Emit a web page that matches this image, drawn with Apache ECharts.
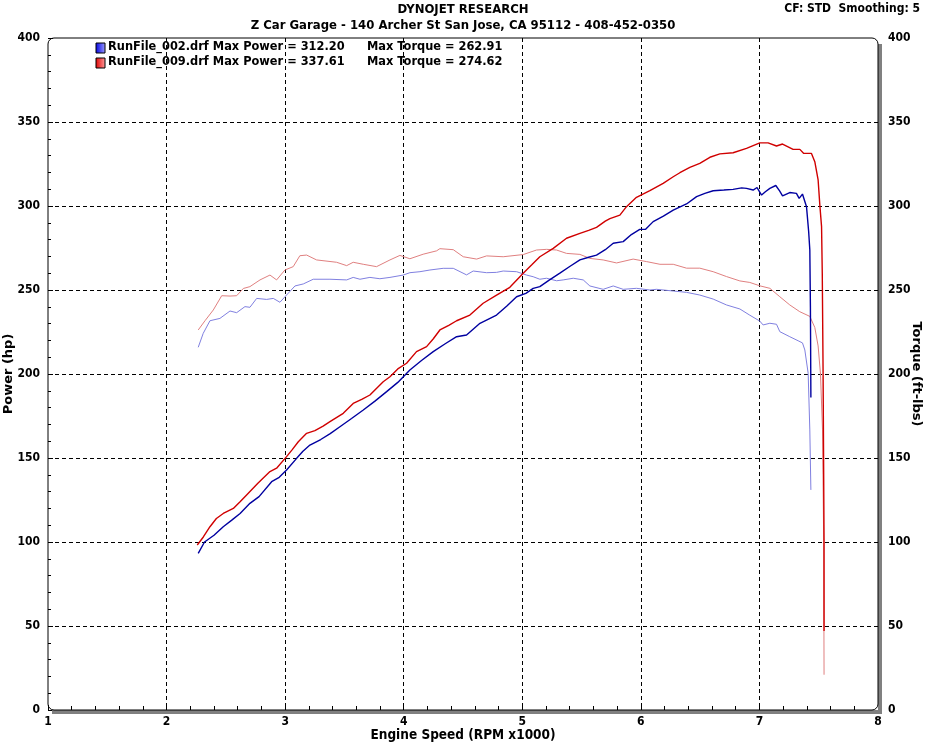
<!DOCTYPE html>
<html><head><meta charset="utf-8">
<script src="https://cdn.jsdelivr.net/npm/echarts@6/dist/echarts.min.js"></script>
<style>html,body{margin:0;padding:0;background:#fff}#c{width:925px;height:743px}</style>
</head><body><div id="c"></div>
<script>
// ---- data ----
const xTicks = [1,2,3,4,5,6,7,8];
const yTicks = [0,50,100,150,200,250,300,350,400];

const bluePowerRpm = [2.267,2.32,2.40,2.478,2.55,2.62,2.703,2.78,2.886,2.95,3.012,3.097,3.15,3.209,3.30,3.38,3.462,3.56,3.659,3.76,3.856,3.95,4.052,4.15,4.249,4.35,4.446,4.53,4.643,4.783,4.87,4.952,5.03,5.092,5.148,5.23,5.317,5.40,5.486,5.56,5.626,5.70,5.767,5.851,5.92,5.991,6.04,6.104,6.19,6.273,6.385,6.47,6.54,6.61,6.70,6.778,6.85,6.891,6.947,6.98,7.018,7.05,7.088,7.138,7.17,7.195,7.256,7.312,7.335,7.363,7.397,7.415,7.425,7.43,7.434];
const bluePowerHp = [93.2,100,104,109.1,113,117,123,127,135.9,138.5,142.9,149.8,154,157.7,161,164.5,168.6,173.5,178.6,184,189.5,195,202.4,208,213.3,218,222.2,223.2,230.2,235.1,240.5,246,248,251,252,256,260,264,267.9,269.5,270.8,274,277.8,278.8,283,286.1,286.1,290.7,294,297.6,301.2,305.6,307.5,309.1,309.5,309.9,310.8,310.5,309.5,311,306.5,308.5,310.5,312.2,309,306,308,307.5,304.5,307.1,299.6,285,273.8,240,186];

const blueTorqueRpm = [2.267,2.309,2.366,2.45,2.535,2.591,2.661,2.703,2.76,2.844,2.9,2.956,3.012,3.083,3.153,3.237,3.378,3.519,3.574,3.631,3.715,3.799,3.884,3.996,4.052,4.137,4.221,4.333,4.418,4.53,4.586,4.699,4.783,4.839,4.952,5.036,5.092,5.148,5.205,5.289,5.345,5.43,5.514,5.57,5.682,5.767,5.851,5.963,6.076,6.132,6.273,6.385,6.497,6.61,6.722,6.835,6.919,7.003,7.031,7.088,7.144,7.172,7.256,7.326,7.363,7.383,7.411,7.425,7.434];
const blueTorqueFt = [215.9,224.2,231.7,233.1,237.5,236.5,240.1,239.7,245,244.4,245,242.7,247,252.4,253.6,256.4,256.4,256,257.5,256.4,257.5,256.7,257.5,258.9,260.3,260.9,261.9,262.9,262.9,259,261.3,260.3,260.5,261.3,260.9,258.9,257.9,256.4,257,255.5,256,257,256,252.4,250.4,252.4,250.4,251,250,250.4,249.4,248.6,247,244.6,241.1,238.7,235,231.5,229.2,230.2,229.6,225.2,222.2,219.8,218.5,214.3,200.4,166.7,131];

const redPowerRpm = [2.259,2.31,2.366,2.42,2.478,2.563,2.62,2.675,2.77,2.872,2.928,3.012,3.06,3.111,3.181,3.251,3.32,3.378,3.49,3.574,3.65,3.715,3.827,3.884,3.95,4.024,4.108,4.193,4.25,4.305,4.38,4.446,4.558,4.67,4.783,4.895,5.008,5.08,5.148,5.261,5.373,5.486,5.56,5.626,5.70,5.739,5.823,5.879,5.963,6.076,6.188,6.273,6.329,6.413,6.497,6.582,6.666,6.778,6.891,7.003,7.073,7.144,7.195,7.284,7.341,7.374,7.439,7.467,7.495,7.51,7.524,7.53,7.537,7.541,7.545,7.545];
const redPowerHp = [98.2,103,109.1,114,117,120,124,128,135,141.9,143.9,150.8,155,159.7,164.7,166.3,169,171.6,176.6,182.5,185,187.5,195.4,198.4,203,206.4,213.3,216.3,221,226.2,229,231.7,235.1,242.1,247,251.6,260,265,269.8,274.8,280.8,283.7,285.5,287.3,291,292.5,294.6,299.6,305.2,309.1,313.5,317.4,319.8,323,325.4,329,331,331.7,334.3,337.6,337.6,335.7,336.9,333.7,333.7,331.3,331.3,326.4,315.5,300,287.7,260,200,150,100,47];

const redTorqueRpm = [2.267,2.324,2.394,2.465,2.535,2.591,2.647,2.703,2.788,2.872,2.928,2.998,3.068,3.124,3.181,3.265,3.434,3.519,3.574,3.659,3.771,3.884,3.968,4.052,4.164,4.277,4.305,4.418,4.502,4.615,4.699,4.839,5.008,5.12,5.205,5.289,5.373,5.486,5.57,5.682,5.795,5.935,6.048,6.161,6.273,6.385,6.497,6.61,6.722,6.835,6.919,7.003,7.088,7.172,7.256,7.34,7.425,7.467,7.495,7.515,7.532,7.542,7.545];
const redTorqueFt = [226.2,231.7,238.1,246.6,246.4,246.6,250.9,252,256,258.9,256,261.9,263.9,270.4,270.8,267.9,266.5,264.5,266.5,265.3,263.9,267.9,270.6,268.6,271.3,273.3,274.6,274,269.8,268.4,270.3,269.8,271.1,273.8,274.2,273.8,271.8,271.2,268.8,267.9,266.1,268.4,266.9,265.3,265.3,263,263,260.9,258,255.4,254.5,252.5,251,246,241.1,237.1,234.3,227.7,216.7,200,166.7,100,21];

const legendRows = [
  {file:'RunFile_002.drf', power:'312.20', torque:'262.91'},
  {file:'RunFile_009.drf', power:'337.61', torque:'274.62'}
];

function zip(a,b){return a.map((v,i)=>[v,b[i]]);}

const F = "'DejaVu Sans Condensed','Liberation Sans Narrow',sans-serif";
const FB = "'DejaVu Sans','Verdana',sans-serif";

const chart = echarts.init(document.getElementById('c'));
const G = {left:48, top:38, right:878, bottom:710};

const graphics = [
  {type:'text', x:463, y:3, style:{text:'DYNOJET RESEARCH', font:"bold 13px "+F, fill:'#000', textAlign:'center'}},
  {type:'text', x:463, y:19, style:{text:'Z Car Garage - 140 Archer St San Jose, CA 95112 - 408-452-0350', font:"bold 13px "+F, fill:'#000', textAlign:'center'}},
  {type:'text', x:920, y:3, style:{text:'CF: STD  Smoothing: 5', font:"bold 12px "+F, fill:'#000', textAlign:'right'}},
  // shadow bars
  {type:'rect', shape:{x:G.right, y:G.top+6, width:4, height:G.bottom-G.top-2}, style:{fill:'#808080'}, z:5},
  {type:'rect', shape:{x:G.left+4, y:G.bottom, width:G.right-G.left, height:4}, style:{fill:'#808080'}, z:5},
  // frame
  {type:'rect', shape:{x:G.left, y:G.top, width:G.right-G.left, height:G.bottom-G.top, r:6}, style:{fill:null, stroke:'#000', lineWidth:1}, z:6}
];
legendRows.forEach((r,i)=>{
  const y = 42 + i*15;
  const c1 = i===0 ? '#0000e0' : '#e00000';
  const c2 = i===0 ? '#a0a0ff' : '#ffa0a0';
  graphics.push({type:'rect', shape:{x:96, y:y+1, width:9, height:10}, style:{fill:new echarts.graphic.LinearGradient(0,0,1,0,[{offset:0,color:c1},{offset:1,color:c2}]), stroke:'#000', lineWidth:1}, z:10});
  graphics.push({type:'text', x:108, y:y, style:{text:r.file+' Max Power = '+r.power, font:"bold 11.4px "+FB, fill:'#000'}, z:10});
  graphics.push({type:'text', x:367, y:y, style:{text:'Max Torque = '+r.torque, font:"bold 11.4px "+FB, fill:'#000'}, z:10});
});

const splitLine = {show:true, showMinLine:false, showMaxLine:false, lineStyle:{color:'#000', type:[4,3], width:1}};

const option = {
  animation:false,
  backgroundColor:'#fff',
  grid:{left:G.left, top:G.top, width:G.right-G.left, height:G.bottom-G.top, containLabel:false, outerBoundsMode:'none'},
  xAxis:{type:'value', min:xTicks[0], max:xTicks[xTicks.length-1], interval:1,
    name:'Engine Speed (RPM x1000)', nameLocation:'middle', nameGap:18, nameMoveOverlap:false,
    nameTextStyle:{fontFamily:F, fontWeight:'bold', fontSize:13.5, color:'#000', verticalAlign:'top'},
    axisLine:{show:false}, axisTick:{show:true, inside:true, length:5, lineStyle:{color:'#000'}},
    minorTick:{show:true, splitNumber:5, length:4, lineStyle:{color:'#000'}},
    axisLabel:{margin:6, fontFamily:F, fontWeight:'bold', fontSize:12, color:'#000'},
    splitLine:splitLine},
  yAxis:[
    {type:'value', min:yTicks[0], max:yTicks[yTicks.length-1], interval:50, position:'left',
     name:'Power (hp)', nameLocation:'middle', nameGap:33, nameRotate:90, nameMoveOverlap:false,
     nameTextStyle:{fontFamily:FB, fontWeight:'bold', fontSize:13, color:'#000'},
     axisLine:{show:false}, axisTick:{show:true, inside:true, length:5, lineStyle:{color:'#000'}},
     minorTick:{show:true, splitNumber:5, length:3, lineStyle:{color:'#000'}},
     axisLabel:{margin:8, fontFamily:F, fontWeight:'bold', fontSize:12, color:'#000'},
     splitLine:splitLine},
    {type:'value', min:yTicks[0], max:yTicks[yTicks.length-1], interval:50, position:'right',
     name:'Torque (ft-lbs)', nameLocation:'middle', nameGap:32, nameRotate:-90, nameMoveOverlap:false,
     nameTextStyle:{fontFamily:FB, fontWeight:'bold', fontSize:13, color:'#000'},
     axisLine:{show:false}, axisTick:{show:false},
     axisLabel:{margin:10, fontFamily:F, fontWeight:'bold', fontSize:12, color:'#000'},
     splitLine:{show:false}}
  ],
  series:[
    {type:'line', name:'002 torque', yAxisIndex:1, data:zip(blueTorqueRpm, blueTorqueFt), showSymbol:false, lineStyle:{color:'#8080e0', width:1}, z:3},
    {type:'line', name:'009 torque', yAxisIndex:1, data:zip(redTorqueRpm, redTorqueFt), showSymbol:false, lineStyle:{color:'#e08080', width:1}, z:3},
    {type:'line', name:'002 power', yAxisIndex:0, data:zip(bluePowerRpm, bluePowerHp), showSymbol:false, lineStyle:{color:'#0000a0', width:1.4}, z:4},
    {type:'line', name:'009 power', yAxisIndex:0, data:zip(redPowerRpm, redPowerHp), showSymbol:false, lineStyle:{color:'#d00000', width:1.4}, z:4}
  ],
  graphic:graphics
};
chart.setOption(option);
</script></body></html>
